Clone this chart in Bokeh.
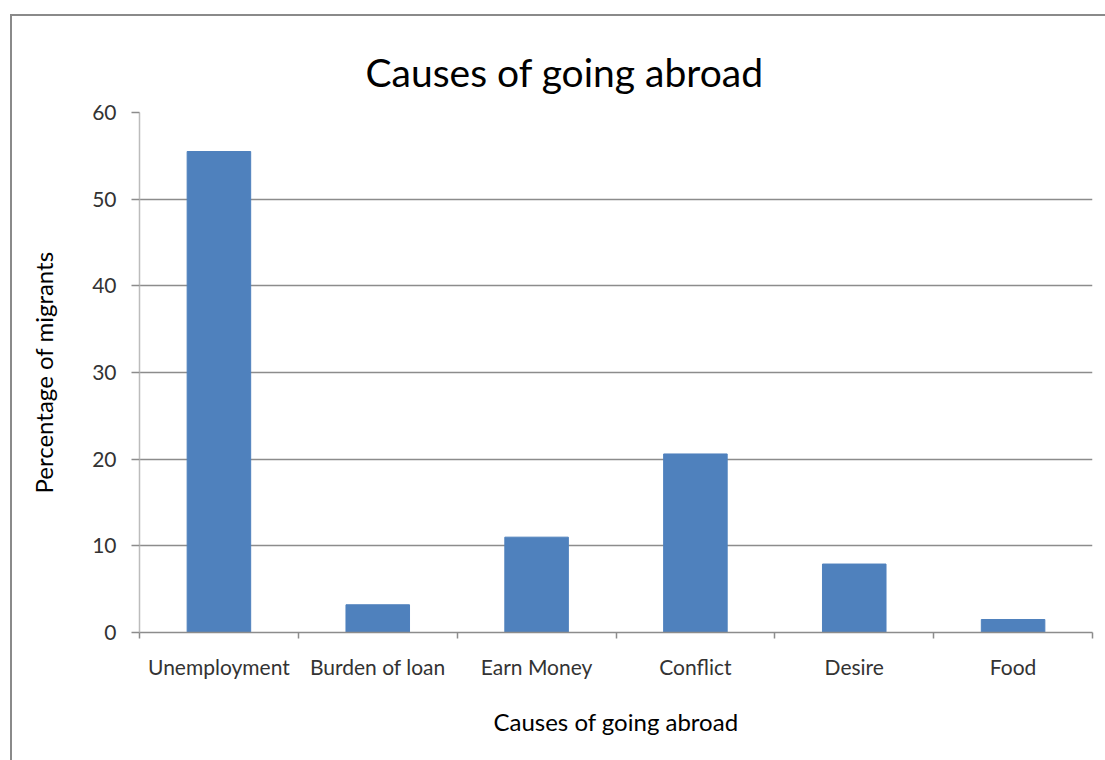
from bokeh.plotting import figure
from bokeh.models import FixedTicker, Range1d, ColumnDataSource
from bokeh.embed import file_html
from bokeh.resources import INLINE

categories = ["Unemployment", "Burden of loan", "Earn Money", "Conflict", "Desire", "Food"]
values = [55.5, 3.2, 11.0, 20.6, 7.9, 1.5]
y_ticks = [0, 10, 20, 30, 40, 50, 60]

xs = [i + 0.5 for i in range(len(categories))]
src = ColumnDataSource(dict(x=xs, top=values, cat=categories))

FONT = "Lato"
p = figure(width=1095, height=746, output_backend="svg", toolbar_location=None,
           x_range=Range1d(0, len(categories)), y_range=Range1d(0, 60),
           min_border_left=127, min_border_right=15, min_border_top=96, min_border_bottom=130,
           margin=(14, 0, 0, 10),
           styles={"border-top": "2px solid #8a8a8a", "border-left": "2px solid #8a8a8a"})
p.vbar(x="x", top="top", width=0.4, bottom=0, source=src, color="#4F81BD", line_color="#4F81BD")

p.title.text = "Causes of going abroad"
p.title.align = "left"
p.title.offset = 226
p.title.text_font = FONT
p.title.text_font_size = "39px"
p.title.text_font_style = "normal"
p.title.text_color = "#000000"
p.title.standoff = 36

p.outline_line_color = None
p.xgrid.grid_line_color = None
p.ygrid.grid_line_color = "#8c8c8c"
p.ygrid.grid_line_width = 1.5
p.ygrid.ticker = FixedTicker(ticks=y_ticks)

xa = p.xaxis[0]
xa.ticker = FixedTicker(ticks=xs, minor_ticks=list(range(len(categories) + 1)))
xa.major_label_overrides = {x: c for x, c in zip(xs, categories)}
xa.major_tick_line_color = None
xa.major_tick_out = 0
xa.major_tick_in = 0
xa.minor_tick_out = 6
xa.minor_tick_in = 0
xa.minor_tick_line_color = "#8c8c8c"
xa.minor_tick_line_width = 1.5
xa.axis_line_color = "#8c8c8c"
xa.axis_line_width = 1.5
xa.major_label_standoff = 15
xa.major_label_text_font = FONT
xa.major_label_text_font_size = "21px"
xa.major_label_text_color = "#333333"
xa.axis_label = "Causes of going abroad"
xa.axis_label_text_font = FONT
xa.axis_label_text_font_size = "24px"
xa.axis_label_text_font_style = "normal"
xa.axis_label_text_color = "#000000"
xa.axis_label_standoff = 25

ya = p.yaxis[0]
ya.ticker = FixedTicker(ticks=y_ticks)
ya.minor_tick_line_color = None
ya.major_tick_out = 8
ya.major_tick_in = 0
ya.major_tick_line_color = "#8c8c8c"
ya.major_tick_line_width = 1.5
ya.axis_line_color = "#bcbcbc"
ya.axis_line_width = 1.5
ya.major_label_standoff = 15
ya.major_label_text_font = FONT
ya.major_label_text_font_size = "21px"
ya.major_label_text_color = "#333333"
ya.axis_label = "Percentage of migrants"
ya.axis_label_text_font = FONT
ya.axis_label_text_font_size = "24px"
ya.axis_label_text_font_style = "normal"
ya.axis_label_text_color = "#000000"
ya.axis_label_standoff = 31

open("out.html", "w").write(file_html(p, INLINE))
